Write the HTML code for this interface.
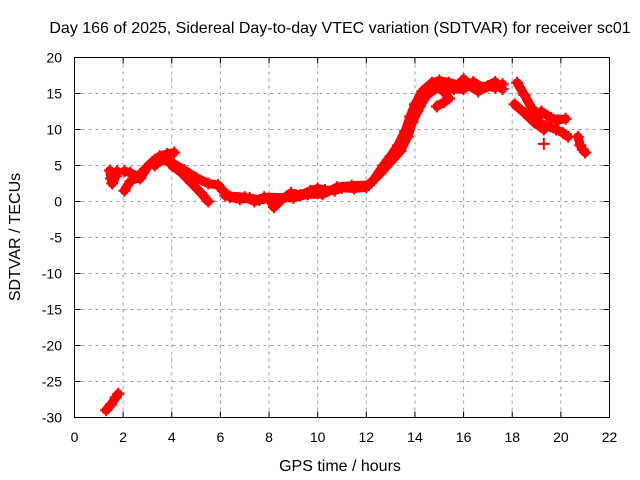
<!DOCTYPE html>
<html><head><meta charset="utf-8"><style>
body{margin:0;background:#fff}
svg{display:block;font-family:"Liberation Sans",sans-serif;font-size:14px}
</style></head><body>
<svg id="c" width="640" height="480">
<text x="340" y="33" text-anchor="middle" font-size="16">Day 166 of 2025, Sidereal Day-to-day VTEC variation (SDTVAR) for receiver sc01</text>
<g id="grid"></g>
<g id="axes"></g>
<g id="data"></g>
<rect x="74.5" y="57.5" width="535" height="360" fill="none" stroke="#000"/>
<text x="340" y="471" text-anchor="middle" font-size="16">GPS time / hours</text>
<text transform="translate(20,237) rotate(-90)" text-anchor="middle" font-size="16">SDTVAR / TECUs</text>
</svg>
<script>
const xTicks=[0,2,4,6,8,10,12,14,16,18,20,22];
const yTicks=[20,15,10,5,0,-5,-10,-15,-20,-25,-30];
const trackLow=[[1.3,-29],[1.5,-28.2],[1.7,-27.2],[1.8,-26.7]];
const trackBlob=[[1.45,4.3],[1.5,3.2],[1.55,2.5],[1.7,3.5],[1.75,4.2]];
const trackRise=[[2.05,1.5],[2.3,2.8],[2.6,3.4],[2.9,4.5],[3.2,5.5],[3.5,6.3],[3.8,6.6],[4.1,6.8]];
const trackRise2=[[2.05,4.2],[2.3,4],[2.5,3.5],[2.7,3.2],[3,4.8],[3.3,5.8]];
const trackMain=[[3.3,5],[3.6,5.8],[4.0,5.4],[4.5,4.4],[5.0,3.3],[5.5,2.5],[5.9,2.3],[6.1,1.5],[6.4,0.6],[6.8,0.3],[7.2,0.5],[7.6,0.2],[8.0,0.4],[8.2,-0.8],[8.5,0.2],[8.9,1.2],[9.3,0.9],[9.7,1.5],[10.0,1.8],[10.3,1.6],[10.7,1.5],[11.0,1.9],[11.5,1.8],[12.0,2],[12.3,3],[12.7,5],[13.0,6.3],[13.3,7.8],[13.6,9.8],[13.8,11.8],[14.0,13.5],[14.3,15.3],[14.7,16.5],[15.0,16.8],[15.4,16.5],[15.8,16.2],[16.0,17],[16.3,16],[16.6,15.3],[17.0,16],[17.3,15.8],[17.6,16.3]];
const trackMain2=[[6.2,0.8],[7.0,0.6],[7.4,0.0],[7.8,0.6],[9.0,0.5],[9.6,1.0],[10.2,1.0],[10.8,2.0],[11.4,2.2],[12.1,2.3],[12.6,4.0],[13.0,5.5],[13.4,7.0],[13.7,9.0],[13.9,11.0],[14.2,13.2],[14.5,14.8],[15.0,16.0],[15.6,15.6],[16.0,15.6],[16.4,16.6],[16.8,15.8],[17.3,16.6],[17.6,15.6]];
const trackDrop=[[4.0,5.0],[4.4,4.0],[4.8,2.6],[5.2,1.2],[5.5,0]];
const trackLoop=[[14.1,12.5],[14.4,14.5],[14.7,15.6],[15.0,15.8],[15.2,15.2],[15.4,14.3],[15.2,13.8],[14.9,13.2]];
const trackHi1=[[18.2,16.5],[18.5,14.8],[18.8,13],[19.1,11.2]];
const trackHi2=[[18.1,13.5],[18.5,12.3],[18.9,11],[19.3,10]];
const trackHi3=[[19.2,12.5],[19.6,11.6],[19.9,11.3],[20.2,11.5]];
const trackHi4=[[19.4,10.5],[19.8,10],[20.1,9.5],[20.3,9]];
const trackDot=[[19.3,8]];
const trackEnd=[[20.7,9],[20.8,7.8],[20.9,7.2],[21.0,6.8]];
const tracks=[trackLow,trackBlob,trackRise,trackRise2,trackMain,trackMain2,trackDrop,trackLoop,trackHi1,trackHi2,trackHi3,trackHi4,trackDot,trackEnd];
const X=t=>74.5+t*(535/22), Y=v=>57.5+(20-v)*(360/50);
const NS="http://www.w3.org/2000/svg";
function mk(tag,parent){const e=document.createElementNS(NS,tag);parent.appendChild(e);return e;}
const g=document.getElementById('grid'),a=document.getElementById('axes'),d=document.getElementById('data');
xTicks.forEach(t=>{const x=X(t);
 if(t>0&&t<22){const l=mk('line',g);l.setAttribute('x1',x);l.setAttribute('x2',x);l.setAttribute('y1',57.5);l.setAttribute('y2',417.5);l.setAttribute('stroke','#999');l.setAttribute('stroke-dasharray','3,4');
 
 }
 const tk=mk('path',a);tk.setAttribute('d',`M${x},417.5v-6M${x},57.5v6`);tk.setAttribute('stroke','#000');
 
 
 const tx=mk('text',a);tx.setAttribute('x',x);tx.setAttribute('y',442);tx.setAttribute('text-anchor','middle');tx.textContent=t;
 
 });
yTicks.forEach(v=>{const y=Y(v);
 if(v>-30&&v<20){const l=mk('line',g);l.setAttribute('x1',74.5);l.setAttribute('x2',609.5);l.setAttribute('y1',y);l.setAttribute('y2',y);l.setAttribute('stroke','#999');l.setAttribute('stroke-dasharray','3,4');
 
 }
 const tk=mk('path',a);tk.setAttribute('d',`M74.5,${y}h6M609.5,${y}h-6`);tk.setAttribute('stroke','#000');
 
 
 const tx=mk('text',a);tx.setAttribute('x',62);tx.setAttribute('y',y+5);tx.setAttribute('text-anchor','end');tx.textContent=v;
 
 });
tracks.forEach(tr=>{
 const p=mk('polyline',d);p.setAttribute('points',tr.map(q=>X(q[0])+','+Y(q[1])).join(' '));
 p.setAttribute('fill','none');p.setAttribute('stroke','#f00');p.setAttribute('stroke-width','9');p.setAttribute('stroke-linejoin','round');p.setAttribute('stroke-linecap','round');
 
 
 tr.forEach(q=>{const m=mk('path',d);const x=X(q[0]),y=Y(q[1]);m.setAttribute('d',`M${x-6},${y}h12M${x},${y-6}v12`);m.setAttribute('stroke','#f00');m.setAttribute('stroke-width','2');
 
 });
});
</script>
</body></html>
